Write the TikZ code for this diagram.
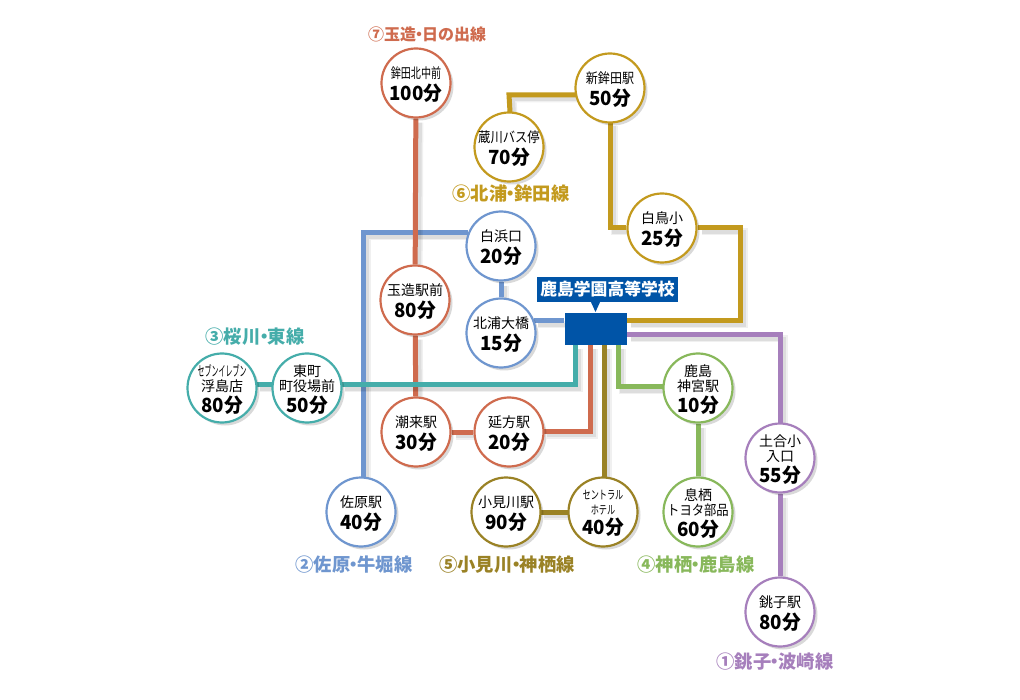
\documentclass[tikz,border=0pt]{standalone}
\usepackage{fontspec}
\setmainfont{Noto Sans CJK JP}
\usetikzlibrary{backgrounds,shadows,shapes.geometric}
\definecolor{cgold}{HTML}{C39A1E}
\definecolor{cpurple}{HTML}{A67FBC}
\definecolor{cblue}{HTML}{6F96CF}
\definecolor{cteal}{HTML}{45ADAA}
\definecolor{cred}{HTML}{CF6B4E}
\definecolor{cbrown}{HTML}{9A8225}
\definecolor{cgreen}{HTML}{88B85B}
\definecolor{chub}{HTML}{0054A7}
\newcommand{\dt}{\hspace{-5.5pt}・\hspace{-5.5pt}}
\newcommand{\nm}{\fontsize{14}{15}\selectfont}
\newcommand{\lowr}[1]{\raisebox{-1.5pt}[\height][\depth]{#1}}
\newcommand{\tm}[1]{\makebox[0pt]{\lowr{\fontsize{19.5}{21}\selectfont\bfseries\scalebox{.96}[1]{#1}}}}
\newcommand{\nl}[2]{\makebox[0pt]{\lowr{\scalebox{#1}[1]{#2}}}}
\newcommand{\sm}[1]{\makebox[0pt]{\lowr{\fontsize{12}{14}\selectfont\scalebox{.68}[1]{#1}}}}
\tikzset{
  stn/.style={circle,draw=#1,line width=2.2pt,fill=white,minimum size=69pt,inner sep=0pt,align=center,
    execute at begin node={\nm},
    drop shadow={shadow xshift=3pt,shadow yshift=-3pt,fill=black,opacity=.15}},
  conn/.style={draw=#1,line width=5pt,
    preaction={draw=black,draw opacity=.06,line width=7pt,transform canvas={shift={(4pt,-4pt)}}},
    preaction={draw=black,draw opacity=.08,line width=4pt,transform canvas={shift={(4pt,-4pt)}}}},
  linelabel/.style={text=#1,font=\fontsize{18.3}{20}\selectfont\bfseries,inner sep=0pt},
}
\begin{document}
\begin{tikzpicture}[x=1pt,y=-1pt]
\useasboundingbox (0,0) rectangle (1020,700);
% stations
\node[stn=cred] (hokotakita) at (416,83) {\nl{.72}{鉾田北中前}\\[3pt]\tm{100分}};
\node[stn=cgold] (shinhoko) at (610,88) {\nl{.86}{新鉾田駅}\\[3pt]\tm{50分}};
\node[stn=cgold] (kurakawa) at (509,147) {\nl{.88}{蔵川バス停}\\[3pt]\tm{70分}};
\node[stn=cgold] (shiratori) at (662,228) {\nl{1}{白鳥小}\\[3pt]\tm{25分}};
\node[stn=cblue] (shirahama) at (501,246) {\nl{1}{白浜口}\\[3pt]\tm{20分}};
\node[stn=cred] (tamatsukuri) at (415,300) {\nl{1}{玉造駅前}\\[3pt]\tm{80分}};
\node[stn=cblue] (kitaura) at (501,333) {\nl{1}{北浦大橋}\\[3pt]\tm{15分}};
\node[stn=cteal] (azuma) at (307,388) {\nl{1}{東町}\\\nl{1}{町役場前}\\[2pt]\tm{50分}};
\node[stn=cteal] (seven) at (222,388) {\nl{.5}{セブンイレブン}\\\nl{1}{浮島店}\\[2pt]\tm{80分}};
\node[stn=cred] (itako) at (416,432) {\nl{1}{潮来駅}\\[3pt]\tm{30分}};
\node[stn=cred] (nokata) at (509,432) {\nl{1}{延方駅}\\[3pt]\tm{20分}};
\node[stn=cgreen] (kashima) at (698,388) {\nl{1}{鹿島}\\\nl{1}{神宮駅}\\[2pt]\tm{10分}};
\node[stn=cpurple] (dogo) at (780,458) {\nl{1}{土合小}\\\nl{1}{入口}\\[2pt]\tm{55分}};
\node[stn=cblue] (sawara) at (361,512) {\nl{1}{佐原駅}\\[3pt]\tm{40分}};
\node[stn=cbrown] (omigawa) at (506,512) {\nl{1}{小見川駅}\\[3pt]\tm{90分}};
\node[stn=cbrown] (central) at (603,512) {\sm{セントラル}\\\sm{ホテル}\\[2pt]\tm{40分}};
\node[stn=cgreen] (ikisu) at (698,512) {\nl{1}{息栖}\\\nl{.88}{トヨタ部品}\\[2pt]\tm{60分}};
\node[stn=cpurple] (choshi) at (780,612) {\nl{1}{銚子駅}\\[3pt]\tm{80分}};
% hub and callout
\node[fill=chub,minimum width=62pt,minimum height=32pt,inner sep=0pt] (hub) at (595.5,329) {};
\node[fill=chub,text=white,minimum width=141pt,minimum height=25pt,inner sep=0pt,
  font=\fontsize{16.8}{18}\selectfont\bfseries] (callout) at (607.5,289.5) {鹿島学園高等学校};
\fill[chub] (590,300) -- (601,300) -- (595.5,312) -- cycle;
% line labels
\node[linelabel=cred,font=\fontsize{16}{18}\selectfont\bfseries] (l7) at (427,34) {⑦玉造\hspace{-5pt}・\hspace{-5pt}日の出線};
\node[linelabel=cgold] (l6) at (511,194) {⑥北浦\dt 鉾田線};
\node[linelabel=cteal] (l3) at (255,337) {③桜川\dt 東線};
\node[linelabel=cblue] (l2) at (354,565) {②佐原\dt 牛堀線};
\node[linelabel=cbrown] (l5) at (507,565) {⑤小見川\dt 神栖線};
\node[linelabel=cgreen] (l4) at (696,565) {④神栖\dt 鹿島線};
\node[linelabel=cpurple] (l1) at (775,662) {①銚子\dt 波崎線};
% route bend points
\coordinate (g1) at (576,95);
\coordinate (g2) at (509,95);
\coordinate (g3) at (510,112);
\coordinate (g4) at (610,122);
\coordinate (g5) at (610,228);
\coordinate (g6) at (740,228);
\coordinate (g7) at (740,321);
\coordinate (g8) at (627,321);
\coordinate (p1) at (627,335);
\coordinate (p2) at (780,335);
\coordinate (p3) at (780,424);
\coordinate (b1) at (363,480);
\coordinate (b2) at (363,233);
\coordinate (b3) at (468,233);
\coordinate (b4) at (534,321);
\coordinate (b5) at (564,321);
\coordinate (t1) at (341,385);
\coordinate (t2) at (575,385);
\coordinate (t3) at (575,345);
\coordinate (t4) at (256,385);
\coordinate (t5) at (273,385);
\coordinate (r1) at (543,431);
\coordinate (r2) at (590,431);
\coordinate (r3) at (590,345);
\coordinate (w1) at (604,345);
\coordinate (w2) at (604,478);
\coordinate (w3) at (540,512);
\coordinate (w4) at (569,512);
\coordinate (e1) at (618,345);
\coordinate (e2) at (618,387);
\coordinate (e3) at (664,387);
\begin{scope}[on background layer]
\fill[white] (0,0) rectangle (1020,700);
\draw[conn=cgold] (g1) -- (g2) -- (g3);
\draw[conn=cgold] (g4) -- (g5) -- (shiratori);
\draw[conn=cgold] (shiratori) -- (g6) -- (g7) -- (g8);
\draw[conn=cpurple] (p1) -- (p2) -- (p3);
\draw[conn=cpurple] (dogo) -- (choshi);
\draw[conn=cblue] (b1) -- (b2) -- (b3);
\draw[conn=cblue] (shirahama) -- (kitaura);
\draw[conn=cblue] (b4) -- (b5);
\draw[conn=cred] (hokotakita) -- (tamatsukuri);
\draw[conn=cred] (tamatsukuri) -- (itako);
\draw[conn=cred] (itako) -- (nokata);
\draw[conn=cred] (r1) -- (r2) -- (r3);
\draw[conn=cteal] (t4) -- (t5);
\draw[conn=cteal] (t1) -- (t2) -- (t3);
\draw[conn=cbrown] (w1) -- (w2);
\draw[conn=cbrown] (w3) -- (w4);
\draw[conn=cgreen] (e1) -- (e2) -- (e3);
\draw[conn=cgreen] (kashima) -- (ikisu);
\end{scope}
\end{tikzpicture}
\end{document}
